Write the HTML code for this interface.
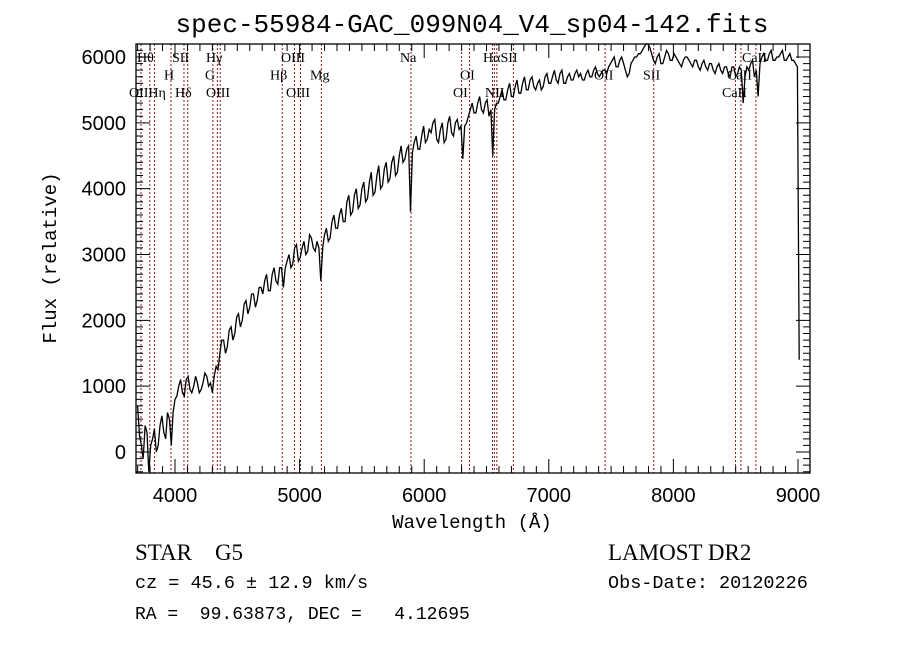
<!DOCTYPE html>
<html><head><meta charset="utf-8"><style>
body{margin:0;background:#fff;}
svg text{font-family:"Liberation Mono",monospace;}
</style></head><body>
<svg id="chart" width="900" height="649" xmlns="http://www.w3.org/2000/svg">
<rect width="900" height="649" fill="#fff"/>
<text x="472" y="32" font-size="26" text-anchor="middle">spec-55984-GAC_099N04_V4_sp04-142.fits</text>
<g id="lines"></g>
<g id="plot"></g>
<g id="axes"></g>
<text x="472" y="528" font-size="19" text-anchor="middle">Wavelength (Å)</text>
<text transform="translate(56,258) rotate(-90)" font-size="19" text-anchor="middle">Flux (relative)</text>
<text x="135" y="560" font-size="23" style="font-family:'Liberation Serif',serif;white-space:pre">STAR    G5</text>
<text x="608" y="560" font-size="23" style="font-family:'Liberation Serif',serif">LAMOST DR2</text>
<text x="135" y="588" font-size="18.5" style="white-space:pre">cz = 45.6 ± 12.9 km/s</text>
<text x="608" y="588" font-size="18.5">Obs-Date: 20120226</text>
<text x="135" y="619" font-size="18" style="white-space:pre">RA =  99.63873, DEC =   4.12695</text>
</svg>
<script>
const waveStart = 3700;
const waveStep = 30;
const flux = [700,100,400,-300,200,0,400,300,600,100,800,1000,900,1100,950,1000,1050,950,1200,1000,900,1300,1500,1700,1600,1900,1800,2100,2000,2300,2200,2400,2300,2500,2600,2450,2700,2600,2800,2500,2900,2800,3100,2900,3100,3000,3300,3100,3200,2600,3300,3200,3500,3400,3600,3500,3800,3600,3900,3700,4000,3800,4100,3900,4200,4000,4300,4100,4400,4200,4500,4400,4600,3650,4700,4600,4800,4700,4900,5000,4750,4900,4700,5000,4850,5000,4900,4450,5000,5200,5150,5300,5200,5300,5100,4500,5300,5400,5350,5500,5400,5550,5450,5600,5500,5650,5550,5600,5500,5700,5600,5700,5650,5750,5600,5700,5650,5750,5700,5650,5750,5700,5800,5750,5750,5800,5850,5950,5850,5950,5900,5700,5900,6000,6050,6100,6200,6150,5950,6000,5900,6000,6050,5950,6000,5900,5950,6000,5900,5950,5850,5900,5850,5900,5800,5850,5800,5850,5750,5850,5700,5850,5300,5850,5900,5700,5400,6000,5950,6050,5950,6000,6050,5950,6000,5950,5900,1400];
const fluxMid = [250,-100,300,100,350,100,550,200,500,600,850,1100,850,1150,900,1150,900,1050,1150,1050,1150,1250,1700,1500,1850,1700,2050,1900,2250,2100,2400,2200,2500,2400,2700,2450,2800,2550,2800,2800,3000,2850,3150,2950,3200,3050,3250,3050,3100,3100,3400,3250,3600,3400,3700,3500,3900,3650,4000,3750,4100,3850,4250,3950,4350,4050,4400,4150,4500,4250,4650,4450,4650,4550,4800,4600,4950,4750,4850,5050,4700,5000,4750,5100,4800,5050,4950,4950,5100,5300,5150,5400,5150,5350,5200,5200,5300,5500,5350,5600,5400,5650,5450,5700,5500,5700,5500,5650,5550,5750,5600,5800,5600,5800,5600,5750,5650,5800,5750,5650,5800,5700,5850,5700,5800,5750,5900,6000,5850,6000,5800,5750,5950,6000,6050,6150,6250,6050,5900,6050,5900,6100,5950,6050,5950,5850,6000,5950,5850,5950,5800,5950,5800,5900,5750,5900,5750,5850,5700,5850,5750,5800,5700,5800,5950,5800,5900,6050,5950,6100,5950,6000,6100,5950,6050,5950,5850];
const lineWaves = [3727,3798,3835,3968,4072,4102,4304,4340,4363,4861,4959,5007,5175,5894,6300,6364,6548,6563,6583,6716,7452,7842,8498,8542,8662];
const lineLabels = [["Hθ",137,1],["SII",172,1],["Hγ",206,1],["OIII",281,1],["Na",400,1],["HαSII",483,1],["CaII",742,1],
 ["H",164,2],["G",205,2],["Hβ",270,2],["Mg",310,2],["OI",460,2],["OII",594,2],["SII",643,2],["CaII",727,2],
 ["OIIHη",129,3],["Hδ",175,3],["OIII",206,3],["OIII",286,3],["OI",453,3],["NII",485,3],["CaII",722,3]];
const xTicks = [4000,5000,6000,7000,8000,9000];
const yTicks = [0,1000,2000,3000,4000,5000,6000];

const L=136,R=810,T=44,B=473;
const X = w => 175 + (w-4000)*(798-175)/5000;
const Y = f => 452 - f*(452-57)/6000;
const NS="http://www.w3.org/2000/svg";
function mk(tag,attrs,parent){const e=document.createElementNS(NS,tag);for(const k in attrs)e.setAttribute(k,attrs[k]);parent.appendChild(e);return e;}
const gl=document.getElementById('lines'), gp=document.getElementById('plot'), ga=document.getElementById('axes');
lineWaves.forEach(w=>{
  const l=mk('line',{x1:X(w),x2:X(w),y1:T,y2:B,stroke:'#8b1a1a','stroke-width':1,'stroke-dasharray':'2,2'},gl);
  
  
});
lineLabels.forEach(([t,x,r])=>{
  const e=mk('text',{x:x,y:62+(r-1)*17.5,'font-size':14},gl);
  e.style.fontFamily="'Liberation Serif',serif";
  e.textContent=t;
  
  
});
const pts=[];
flux.forEach((f,i)=>{
  pts.push([waveStart+i*waveStep,f]);
  if(i<fluxMid.length) pts.push([waveStart+i*waveStep+waveStep/2,fluxMid[i]]);
});
let d='';
pts.forEach(([w,f],i)=>{d+=(i?'L':'M')+X(w).toFixed(1)+','+Math.max(T,Math.min(B,Y(f))).toFixed(1);});
const p=mk('path',{d:d,fill:'none',stroke:'#000','stroke-width':1.3},gp);


const fr=mk('rect',{x:L,y:T,width:R-L,height:B-T,fill:'none',stroke:'#000','stroke-width':1.3},ga);


let td='';
for(let w=3700;w<=9100;w+=100){const x=X(w);if(x<L||x>R)continue;const len=(w%1000===0)?14:7;td+=`M${x},${B}v${-len}M${x},${T}v${len}`;}
for(let f=-300;f<=6100;f+=100){const y=Y(f);if(y<T||y>B)continue;const len=(f%1000===0)?14:7;td+=`M${L},${y}h${len}M${R},${y}h${-len}`;}
const tk=mk('path',{d:td,stroke:'#000','stroke-width':1},ga);


xTicks.forEach(w=>{const t=mk('text',{x:X(w),y:502,'font-size':20,'text-anchor':'middle'},ga);t.style.fontFamily="'Liberation Sans',sans-serif";t.textContent=w;

});
yTicks.forEach(f=>{const t=mk('text',{x:126,y:Y(f)+7,'font-size':20,'text-anchor':'end'},ga);t.style.fontFamily="'Liberation Sans',sans-serif";t.textContent=f;

});
</script>
</body></html>
